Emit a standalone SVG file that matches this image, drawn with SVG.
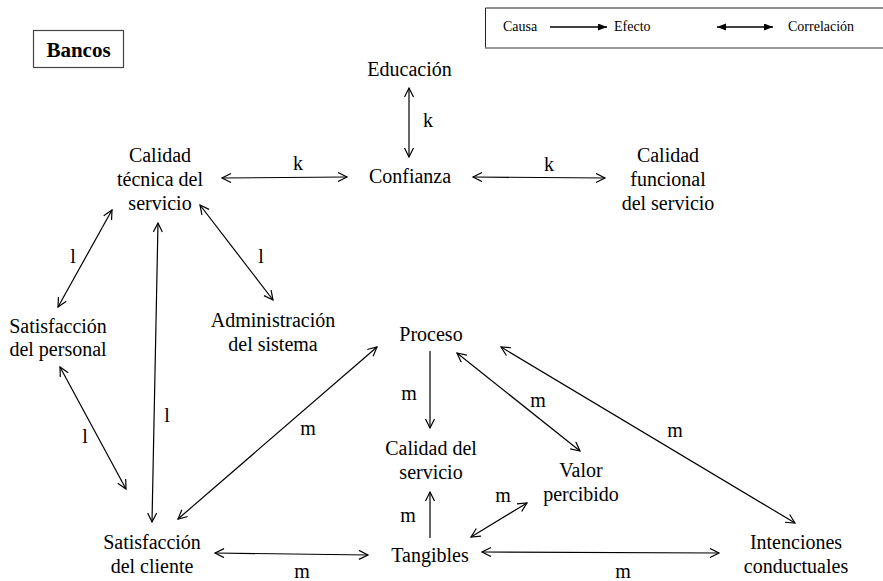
<svg xmlns="http://www.w3.org/2000/svg" width="883" height="581" viewBox="0 0 883 581" font-family="'Liberation Serif', 'Times New Roman', 'DejaVu Serif', serif">
<defs>
<marker id="open" markerUnits="userSpaceOnUse" markerWidth="12" markerHeight="12" refX="10" refY="5" orient="auto-start-reverse" viewBox="0 0 12 12">
<path d="M1,0.5 L10,5 L1,9.5" fill="none" stroke="#000" stroke-width="1.2"/>
</marker>
<marker id="solid" markerUnits="userSpaceOnUse" markerWidth="10" markerHeight="8" refX="9" refY="3.5" orient="auto-start-reverse" viewBox="0 0 10 8">
<path d="M0,0 L9,3.5 L0,7 z" fill="#000"/>
</marker>
</defs>
<style>
text{fill:#000;}
.n{font-size:20px;text-anchor:middle;}
.lb{font-size:20px;text-anchor:middle;}
.lg{font-size:14px;}
.c line{stroke:#000;stroke-width:1.2;marker-start:url(#open);marker-end:url(#open);}
.c line.one{marker-start:none;}
</style>
<rect x="0" y="0" width="883" height="581" fill="#fff"/>
<g id="legend" font-family="'Liberation Serif', 'DejaVu Serif', serif">
<path d="M885,8 H485.5 V48" fill="none" stroke="#222" stroke-width="1"/>
<line x1="485" y1="48" x2="885" y2="48" stroke="#777" stroke-width="1.6"/>
<text class="lg" x="503" y="31">Causa</text>
<line x1="550" y1="27" x2="607" y2="27" stroke="#000" stroke-width="1.3" marker-end="url(#solid)"/>
<text class="lg" x="614" y="31">Efecto</text>
<line x1="717" y1="27" x2="773" y2="27" stroke="#000" stroke-width="1.3" marker-start="url(#solid)" marker-end="url(#solid)"/>
<text class="lg" x="788" y="31">Correlación</text>
</g>
<g id="bancos">
<rect x="33.5" y="30.5" width="90" height="37" fill="none" stroke="#444" stroke-width="1.2"/>
<text x="78.5" y="57" font-size="21" font-weight="bold" text-anchor="middle" font-family="'Liberation Serif', 'DejaVu Serif', serif">Bancos</text>
</g>
<g font-family="'Liberation Serif', 'DejaVu Serif', serif">
<g id="educacion"><text class="n" x="409.5" y="76">Educación</text></g>
<g id="confianza"><text class="n" x="410" y="183">Confianza</text></g>
<g id="calidad-tecnica"><text class="n" x="160" y="162">Calidad</text><text class="n" x="160" y="186">técnica del</text><text class="n" x="160" y="210">servicio</text></g>
<g id="calidad-funcional"><text class="n" x="668" y="162">Calidad</text><text class="n" x="668" y="186">funcional</text><text class="n" x="668" y="210">del servicio</text></g>
<g id="satisfaccion-personal"><text class="n" x="58" y="333">Satisfacción</text><text class="n" x="58" y="356">del personal</text></g>
<g id="administracion"><text class="n" x="273" y="327">Administración</text><text class="n" x="273" y="351">del sistema</text></g>
<g id="proceso"><text class="n" x="431" y="341">Proceso</text></g>
<g id="calidad-servicio"><text class="n" x="431" y="455">Calidad del</text><text class="n" x="431" y="479">servicio</text></g>
<g id="valor-percibido"><text class="n" x="581" y="477">Valor</text><text class="n" x="581" y="501">percibido</text></g>
<g id="satisfaccion-cliente"><text class="n" x="152" y="549">Satisfacción</text><text class="n" x="152" y="573">del cliente</text></g>
<g id="tangibles"><text class="n" x="430" y="562">Tangibles</text></g>
<g id="intenciones"><text class="n" x="796" y="549">Intenciones</text><text class="n" x="796" y="573">conductuales</text></g>
</g>
<g id="connectors" class="c">
<line x1="409" y1="88" x2="409" y2="157"/>
<line x1="222" y1="178" x2="347" y2="177"/>
<line x1="473" y1="177" x2="605" y2="178"/>
<line x1="112" y1="210" x2="58" y2="307"/>
<line x1="200" y1="205" x2="273" y2="300"/>
<line x1="158" y1="223" x2="152" y2="522"/>
<line x1="60" y1="367" x2="126" y2="489"/>
<line x1="377" y1="347" x2="178" y2="519"/>
<line class="one" x1="430" y1="351" x2="430" y2="428"/>
<line x1="457" y1="353" x2="580" y2="451"/>
<line x1="501" y1="347" x2="795" y2="523"/>
<line class="one" x1="430" y1="538" x2="430" y2="492"/>
<line x1="471" y1="537" x2="527" y2="503"/>
<line x1="482" y1="552" x2="719" y2="553"/>
<line x1="215" y1="553" x2="368" y2="555"/>
</g>
<g id="labels" font-family="'Liberation Serif', 'DejaVu Serif', serif">
<text class="lb" x="428" y="127">k</text>
<text class="lb" x="298" y="170">k</text>
<text class="lb" x="549" y="171">k</text>
<text class="lb" x="73" y="263">l</text>
<text class="lb" x="261" y="263">l</text>
<text class="lb" x="167" y="422">l</text>
<text class="lb" x="85" y="443">l</text>
<text class="lb" x="308" y="435">m</text>
<text class="lb" x="409" y="400">m</text>
<text class="lb" x="538" y="407">m</text>
<text class="lb" x="675" y="437">m</text>
<text class="lb" x="408" y="522">m</text>
<text class="lb" x="503" y="502">m</text>
<text class="lb" x="623" y="578">m</text>
<text class="lb" x="302" y="578">m</text>
</g>
</svg>
